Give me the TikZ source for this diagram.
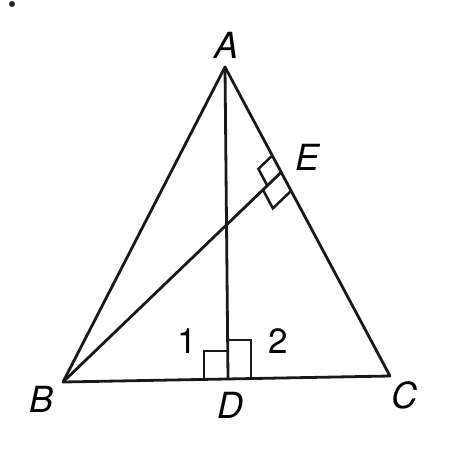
\documentclass[tikz,border=0pt]{standalone}
\usepackage{fontspec}
\setmainfont{TeX Gyre Heros}
\usetikzlibrary{calc}
\begin{document}
\begin{tikzpicture}[x=1pt,y=-1pt,
  edge/.style={line width=2.8pt,line cap=round,line join=round,black!90},
  ramark/.style={line width=2.5pt,line join=miter,black!90},
  lbl/.style={font=\fontsize{36}{40}\selectfont\itshape,inner sep=0pt},
  num/.style={font=\fontsize{35}{40}\selectfont,inner sep=0pt}]
\useasboundingbox (0,0) rectangle (474,464);
\fill[black!85] (12,4) circle (3);
\coordinate (A) at (225,67);
\coordinate (B) at (63,382);
\coordinate (C) at (390,376);
\coordinate (D) at (228,379);
\coordinate (E) at (281,172.5);
% right angle marks at E
\coordinate (P1) at ($(E)!19pt!(A)$);
\coordinate (P2) at ($(E)!19pt!(B)$);
\draw[ramark] (P1) -- ($(P1)+(P2)-(E)$) -- (P2);
\coordinate (Q1) at ($(E)!21pt!(C)$);
\coordinate (Q2) at ($(E)!25pt!(B)$);
\draw[ramark] (Q1) -- ($(Q1)+(Q2)-(E)$) -- (Q2);
% right angle marks at D
\draw[ramark] (204,379) -- (204,351) -- (228,351);
\draw[ramark] (228,340) -- (251,340) -- (251,378.7);
% triangle and segments
\draw[edge] (A) -- (B) -- (C) -- cycle;
\draw[edge] (A) -- (D);
\draw[edge] (B) -- (E);
% labels
\node[lbl] (lA) at (227,45) {A};
\node[lbl] (lB) at (42,399) {B};
\node[lbl] (lC) at (404,395) {C};
\node[lbl] (lD) at (230,405) {D};
\node[lbl] (lE) at (308,157) {E};
\node[num] (l1) at (187,341) {1};
\node[num] (l2) at (278,341) {2};
\end{tikzpicture}
\end{document}
